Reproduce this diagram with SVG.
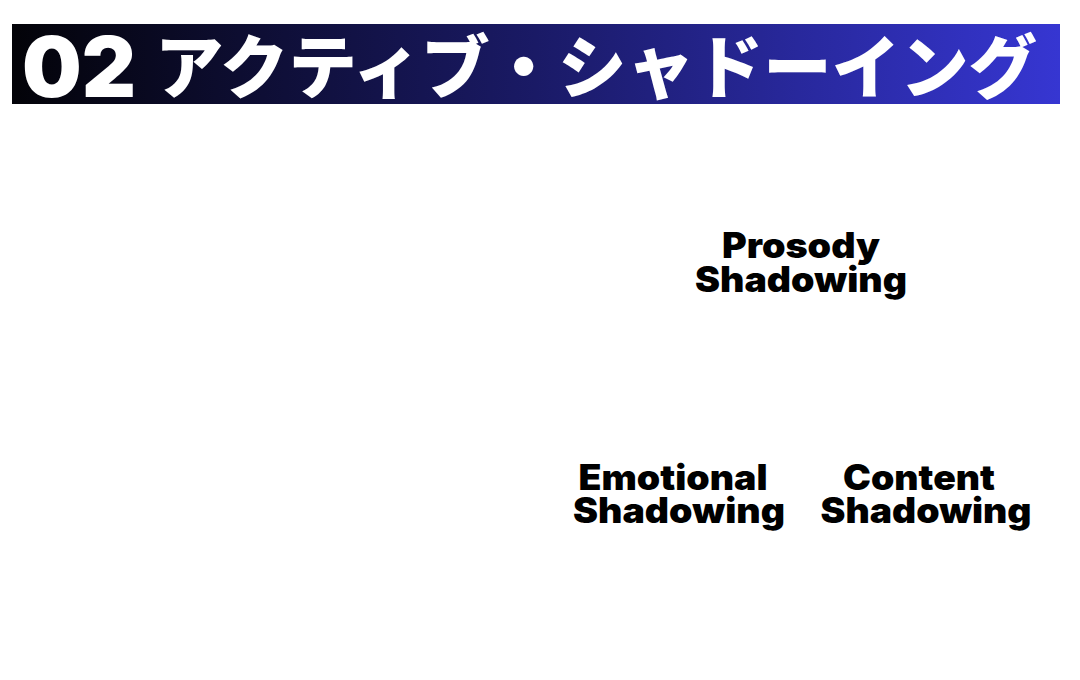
<svg xmlns="http://www.w3.org/2000/svg" width="1080" height="680" viewBox="0 0 1080 680">
  <defs>
    <linearGradient id="hdr" x1="0" y1="0" x2="1" y2="0">
      <stop offset="0" stop-color="#030308"/>
      <stop offset="0.5" stop-color="#1a1a66"/>
      <stop offset="1" stop-color="#3636d2"/>
    </linearGradient>
    <style>
      .lbl { font-family: Inter, "Noto Sans", "Liberation Sans", sans-serif; font-weight: 900; font-size: 35px; fill: #000; text-anchor: middle; }
      .num { font-family: Inter, "Liberation Sans", sans-serif; font-weight: 900; font-size: 84px; fill: #fff; }
      .jp { font-family: "Noto Sans CJK JP", "Noto Sans", sans-serif; font-weight: 900; font-size: 69px; fill: #fff; }
    </style>
  </defs>
  <rect width="1080" height="680" fill="#fff"/>
  <g id="header">
    <rect x="12" y="24" width="1048" height="80" fill="url(#hdr)"/>
    <text class="num" x="22" y="97">02</text>
    <text class="jp" x="155" y="93" textLength="882" lengthAdjust="spacingAndGlyphs">アクティブ・シャドーイング</text>
  </g>
  <g id="connectors"></g>
  <g id="prosody">
    <text class="lbl" x="801" y="258" textLength="158" lengthAdjust="spacingAndGlyphs">Prosody</text>
    <text class="lbl" x="801" y="292" textLength="212" lengthAdjust="spacingAndGlyphs">Shadowing</text>
  </g>
  <g id="emotional">
    <text class="lbl" x="673" y="490" textLength="189" lengthAdjust="spacingAndGlyphs">Emotional</text>
    <text class="lbl" x="679" y="523" textLength="212" lengthAdjust="spacingAndGlyphs">Shadowing</text>
  </g>
  <g id="content">
    <text class="lbl" x="919" y="490" textLength="152" lengthAdjust="spacingAndGlyphs">Content</text>
    <text class="lbl" x="926" y="523" textLength="211" lengthAdjust="spacingAndGlyphs">Shadowing</text>
  </g>
</svg>
